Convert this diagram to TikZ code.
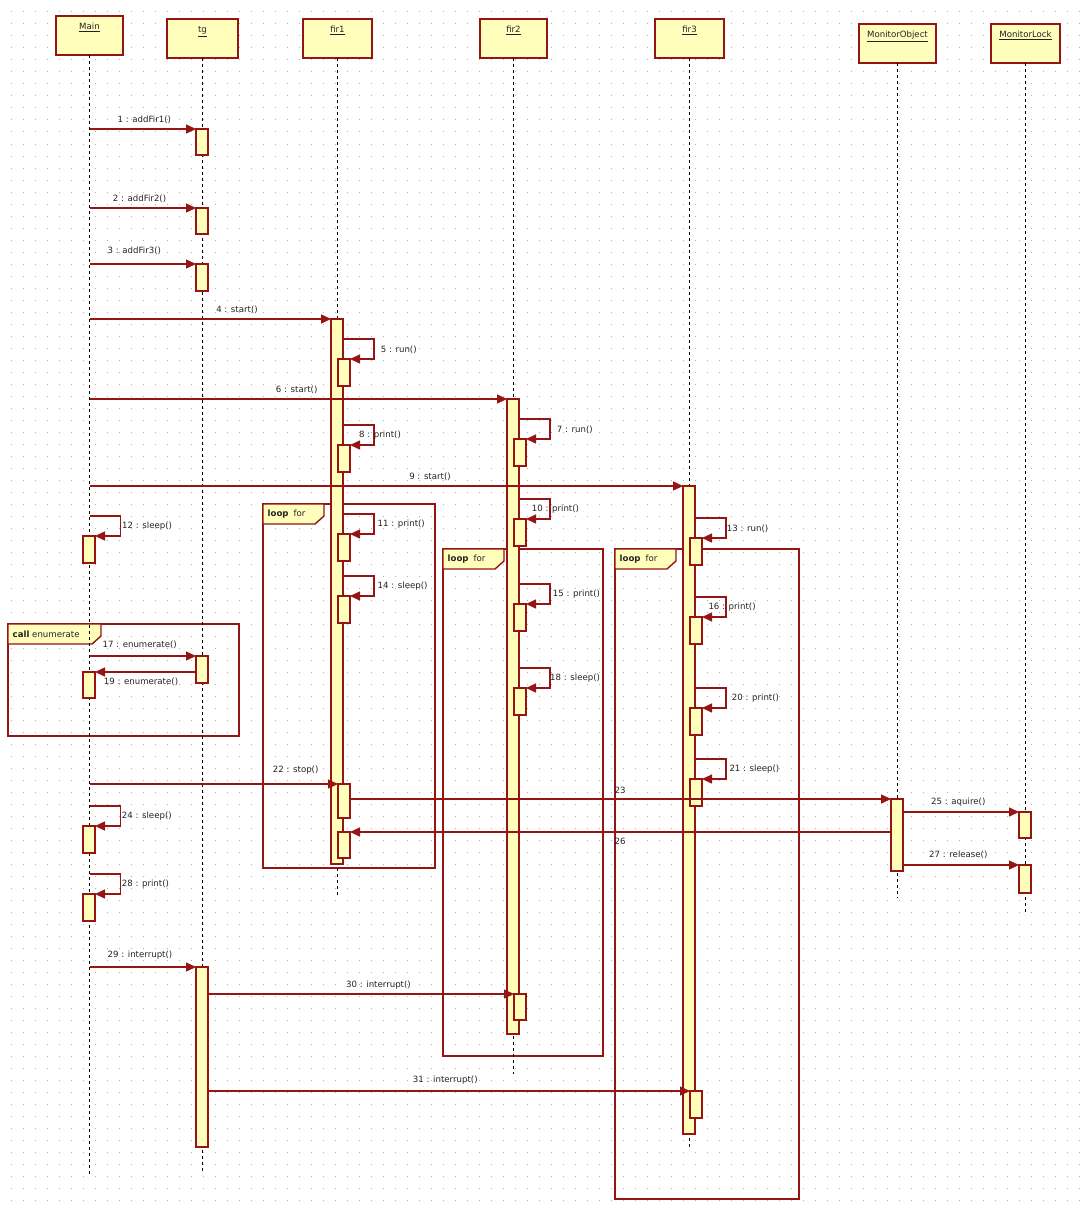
\documentclass[tikz,border=0pt]{standalone}
\usepackage{fontspec}
\setmainfont{DejaVu Sans}
\usetikzlibrary{arrows.meta}

\definecolor{umlred}{RGB}{150,20,20}
\definecolor{umlfill}{RGB}{255,255,187}
\definecolor{umltext}{RGB}{35,35,35}
\definecolor{griddot}{RGB}{175,175,175}

\tikzset{
  objbox/.style={draw=umlred, fill=umlfill, line width=2pt, minimum height=39pt, inner sep=0pt, outer sep=0pt, anchor=north},
  objname/.style={text=umltext, font=\fontsize{8.6}{10}\selectfont, inner sep=0pt},
  lifeline/.style={black, line width=1.1pt, dash pattern=on 3pt off 3pt},
  actbar/.style={draw=umlred, fill=umlfill, line width=1.4pt, minimum width=12pt, inner sep=0pt, outer sep=0pt, anchor=north},
  msg/.style={umlred, line width=1.4pt, -{Triangle[length=10pt,width=9pt]}},
  msglbl/.style={text=umltext, font=\fontsize{8.6}{10}\selectfont, inner sep=0pt},
  fragbox/.style={draw=umlred, line width=1.4pt},
  fragtab/.style={draw=umlred, fill=umlfill, line width=1.4pt},
}

\begin{document}
\begin{tikzpicture}[x=1pt, y=-1pt]
    \useasboundingbox (0,0) rectangle (1088,1212);

    % Dotted background grid
    \foreach \gy in {12,24,...,1200}
        \draw[griddot, line width=1pt, dash pattern=on 1pt off 11pt] (10.5,\gy) -- (1088,\gy);

    % Combined fragments (loop / call)
    \foreach \fx/\fy/\fr/\fb/\tw/\ftxt [count=\i] in {
        263/504/435/868/61/{\textbf{loop}\hspace{5pt}for},
        443/549/603/1056/61/{\textbf{loop}\hspace{5pt}for},
        615/549/799/1199/61/{\textbf{loop}\hspace{5pt}for},
        8/624/239/736/93/{\textbf{call} enumerate}} {
        \draw[fragbox] (\fx,\fy) rectangle (\fr,\fb);
        \filldraw[fragtab] (\fx,\fy) -- ++(\tw,0) -- ++(0,12) -- ++(-9,8) -- (\fx,\fy+20) -- cycle;
        \node[msglbl, anchor=west] (frag\i) at (\fx+4.5,\fy+10) {\ftxt};
    }

    % Objects and their lifelines
    \foreach \n/\txt/\x/\yt/\w/\e in {
        main/Main/89.5/16/67/1175,
        tg/tg/202.5/19/71/1173,
        fir1/fir1/337.5/19/69/895,
        fir2/fir2/513.5/19/67/1074,
        fir3/fir3/689.5/19/69/1147,
        mo/MonitorObject/897.5/24/77/898,
        ml/MonitorLock/1025.5/24/69/915} {
        \node[objbox, minimum width=\w] (\n) at (\x,\yt) {};
        \node[objname, anchor=base] (\n-name) at ([yshift=-14pt]\n.north) {\underline{\txt}};
        \draw[lifeline] (\n.south) -- (\x,\e);
    }

    % Activation bars
    \foreach \n/\x/\y/\h in {
        tgA1/202/129/26,
        tgA2/202/208/26,
        tgA3/202/264/27,
        fir1bar/337/319/545,
        fir2bar/513/399/635,
        fir3bar/689/486/648,
        tgA17/202/656/27,
        mainA19/89/672/26,
        moA/897/799/72,
        mlA25/1025/812/26,
        mlA27/1025/865/28,
        tgA29/202/967/180,
        fir1A22/344/784/34,
        fir1A26/344/832/26,
        fir2A30/520/994/26,
        fir3A31/696/1091/27}
        \node[actbar, minimum height=\h] (\n) at (\x,\y) {};

    % Self calls
    \foreach \n/\sx/\ax/\yt/\lx/\txt in {
        5/343/344/339/380.6/5 : run(),
        8/343/344/425/359/8 : print(),
        11/343/344/514/377.5/11 : print(),
        14/343/344/576/377.5/14 : sleep(),
        7/519/520/419/556.7/7 : run(),
        10/519/520/499/531.7/10 : print(),
        15/519/520/584/552.7/15 : print(),
        18/519/520/668/550/18 : sleep(),
        13/695/696/518/726.7/13 : run(),
        16/695/696/597/708.3/16 : print(),
        20/695/696/688/731.7/20 : print(),
        21/695/696/759/729.3/21 : sleep(),
        12/89.5/89/516/122/12 : sleep(),
        24/89.5/89/806/121.7/24 : sleep(),
        28/89.5/89/874/121.7/28 : print()} {
        \node[actbar, minimum height=27] (a\n) at (\ax,\yt+20) {};
        \coordinate (s\n) at (\sx,\yt);
        \draw[msg] (s\n) -- ++(31,0) |- (a\n.north east);
        \node[msglbl, anchor=west] (l\n) at (\lx,\yt+10.5) {\txt};
    }

    % Messages to the right
    \foreach \m/\sx/\y/\to/\lx/\ly/\txt in {
        1/89.5/129/tgA1/144.4/120/1 : addFir1(),
        2/89.5/208/tgA2/139.5/198.5/2 : addFir2(),
        3/89.5/264/tgA3/134.3/250.5/3 : addFir3(),
        4/89.5/319/fir1bar/237/310/4 : start(),
        6/89.5/399/fir2bar/296.7/390.3/6 : start(),
        9/89.5/486/fir3bar/430/476.7/9 : start(),
        17/89.5/656/tgA17/139.7/645/17 : enumerate(),
        22/89.5/784/fir1A22/295.7/770.3/22 : stop(),
        23/350/799/moA/620/790/23,
        25/903/812/mlA25/958.3/801.7/25 : aquire(),
        27/903/865/mlA27/958.3/855/27 : release(),
        29/89.5/967/tgA29/140/955/29 : interrupt(),
        30/208/994/fir2A30/378.5/985/30 : interrupt(),
        31/208/1091/fir3A31/445.3/1080/31 : interrupt()} {
        \coordinate (m\m) at (\sx,\y);
        \draw[msg] (m\m) -- (\to.north west);
        \node[msglbl] (ml\m) at (\lx,\ly) {\txt};
    }

    % Messages to the left
    \foreach \m/\sx/\y/\to/\lx/\ly/\txt in {
        19/196/672/mainA19/141/681.7/19 : enumerate(),
        26/891/832/fir1A26/620/841.7/26} {
        \coordinate (m\m) at (\sx,\y);
        \draw[msg] (m\m) -- (\to.north east);
        \node[msglbl] (ml\m) at (\lx,\ly) {\txt};
    }
\end{tikzpicture}
\end{document}
